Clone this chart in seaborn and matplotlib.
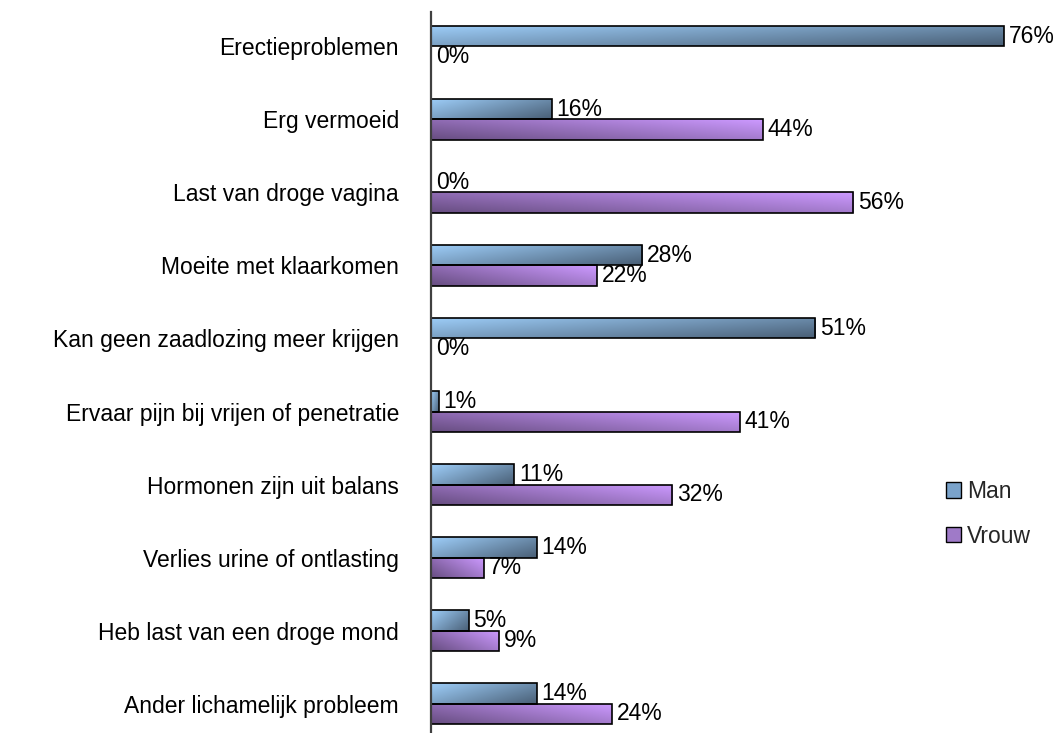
import numpy as np
import pandas as pd
import matplotlib
matplotlib.use("Agg")
import matplotlib.pyplot as plt
import seaborn as sns
from matplotlib.colors import to_rgb
from matplotlib.patches import Rectangle

categories = [
    "Erectieproblemen",
    "Erg vermoeid",
    "Last van droge vagina",
    "Moeite met klaarkomen",
    "Kan geen zaadlozing meer krijgen",
    "Ervaar pijn bij vrijen of penetratie",
    "Hormonen zijn uit balans",
    "Verlies urine of ontlasting",
    "Heb last van een droge mond",
    "Ander lichamelijk probleem",
]
man = [76, 16, 0, 28, 51, 1, 11, 14, 5, 14]
vrouw = [0, 44, 56, 22, 0, 41, 32, 7, 9, 24]
series = ["Man", "Vrouw"]

df = pd.DataFrame({
    "cat": categories * 2,
    "val": [v / 100 for v in man] + [v / 100 for v in vrouw],
    "grp": ["Man"] * len(categories) + ["Vrouw"] * len(categories),
})

grad = {
    "Man": (to_rgb("#9DCDF8"), to_rgb("#4A6077")),
    "Vrouw": (to_rgb("#CC99FF"), to_rgb("#684E82")),
}
mid = {"Man": "#7AA3CB", "Vrouw": "#9F7AC8"}

sns.set_theme(style="white")
plt.rcParams["font.family"] = ["Liberation Sans", "DejaVu Sans"]
FS = 16.5

W, H = 1062, 733
fig = plt.figure(figsize=(W / 100, H / 100), dpi=100)
left_px, right_px = 431, 431 + 0.8 * 753.6
top_px, bot_px = 12, 738
ax = fig.add_axes([left_px / W, 1 - bot_px / H, (right_px - left_px) / W, (bot_px - top_px) / H])

sns.barplot(data=df, y="cat", x="val", hue="grp", hue_order=series, order=categories,
            orient="h", width=0.575, gap=0, palette=mid, edgecolor="black",
            linewidth=1.2, ax=ax, legend=False, errorbar=None)

ax.set_xlim(0, 0.8)
ax.set_ylim(9 + 0.4726, -0.4726)

# gradient fill for each bar
for cont, name in zip(ax.containers, series):
    light, dark = np.array(grad[name][0]), np.array(grad[name][1])
    for p in cont.patches:
        x0, y0 = p.get_x(), p.get_y()
        w, h = p.get_width(), p.get_height()
        if w <= 0:
            continue
        nu, nv = 64, 16
        u = np.linspace(0, 1, nu)[None, :]
        v = np.linspace(0, 1, nv)[:, None]
        if name == "Man":
            t = 0.6 * u + 0.4 * v
        else:
            t = 0.6 * (1 - u) + 0.4 * v
        img = light[None, None, :] * (1 - t[..., None]) + dark[None, None, :] * t[..., None]
        im = ax.imshow(img, extent=(x0, x0 + w, y0 + h, y0), aspect="auto",
                       interpolation="bilinear", zorder=p.get_zorder() + 0.1)
        im.set_clip_path(p)
        p.set_facecolor("none")
        p.set_zorder(p.get_zorder() + 0.2)

ax.set_xlim(0, 0.8)
ax.set_ylim(9 + 0.4726, -0.4726)

for cont, vals in zip(ax.containers, [man, vrouw]):
    ax.bar_label(cont, labels=[f"{v}%" for v in vals], padding=3.5,
                 fontsize=FS, color="black")

ax.set_xlabel("")
ax.set_ylabel("")
ax.set_xticks([])
ax.tick_params(axis="y", length=0, pad=23, labelsize=FS, colors="black")
for s in ["top", "right", "bottom"]:
    ax.spines[s].set_visible(False)
ax.spines["left"].set_color("#404040")
ax.spines["left"].set_linewidth(1.6)

handles = [Rectangle((0, 0), 1, 1, facecolor=mid[s], edgecolor="black", linewidth=1.0) for s in series]
fig.legend(handles, series, loc="center left", bbox_to_anchor=(937 / W, 1 - 514 / H),
           frameon=False, fontsize=FS, handlelength=0.65, handleheight=0.65,
           handletextpad=0.25, labelspacing=0.95, borderaxespad=0)

fig.savefig("out.png", dpi=100)
